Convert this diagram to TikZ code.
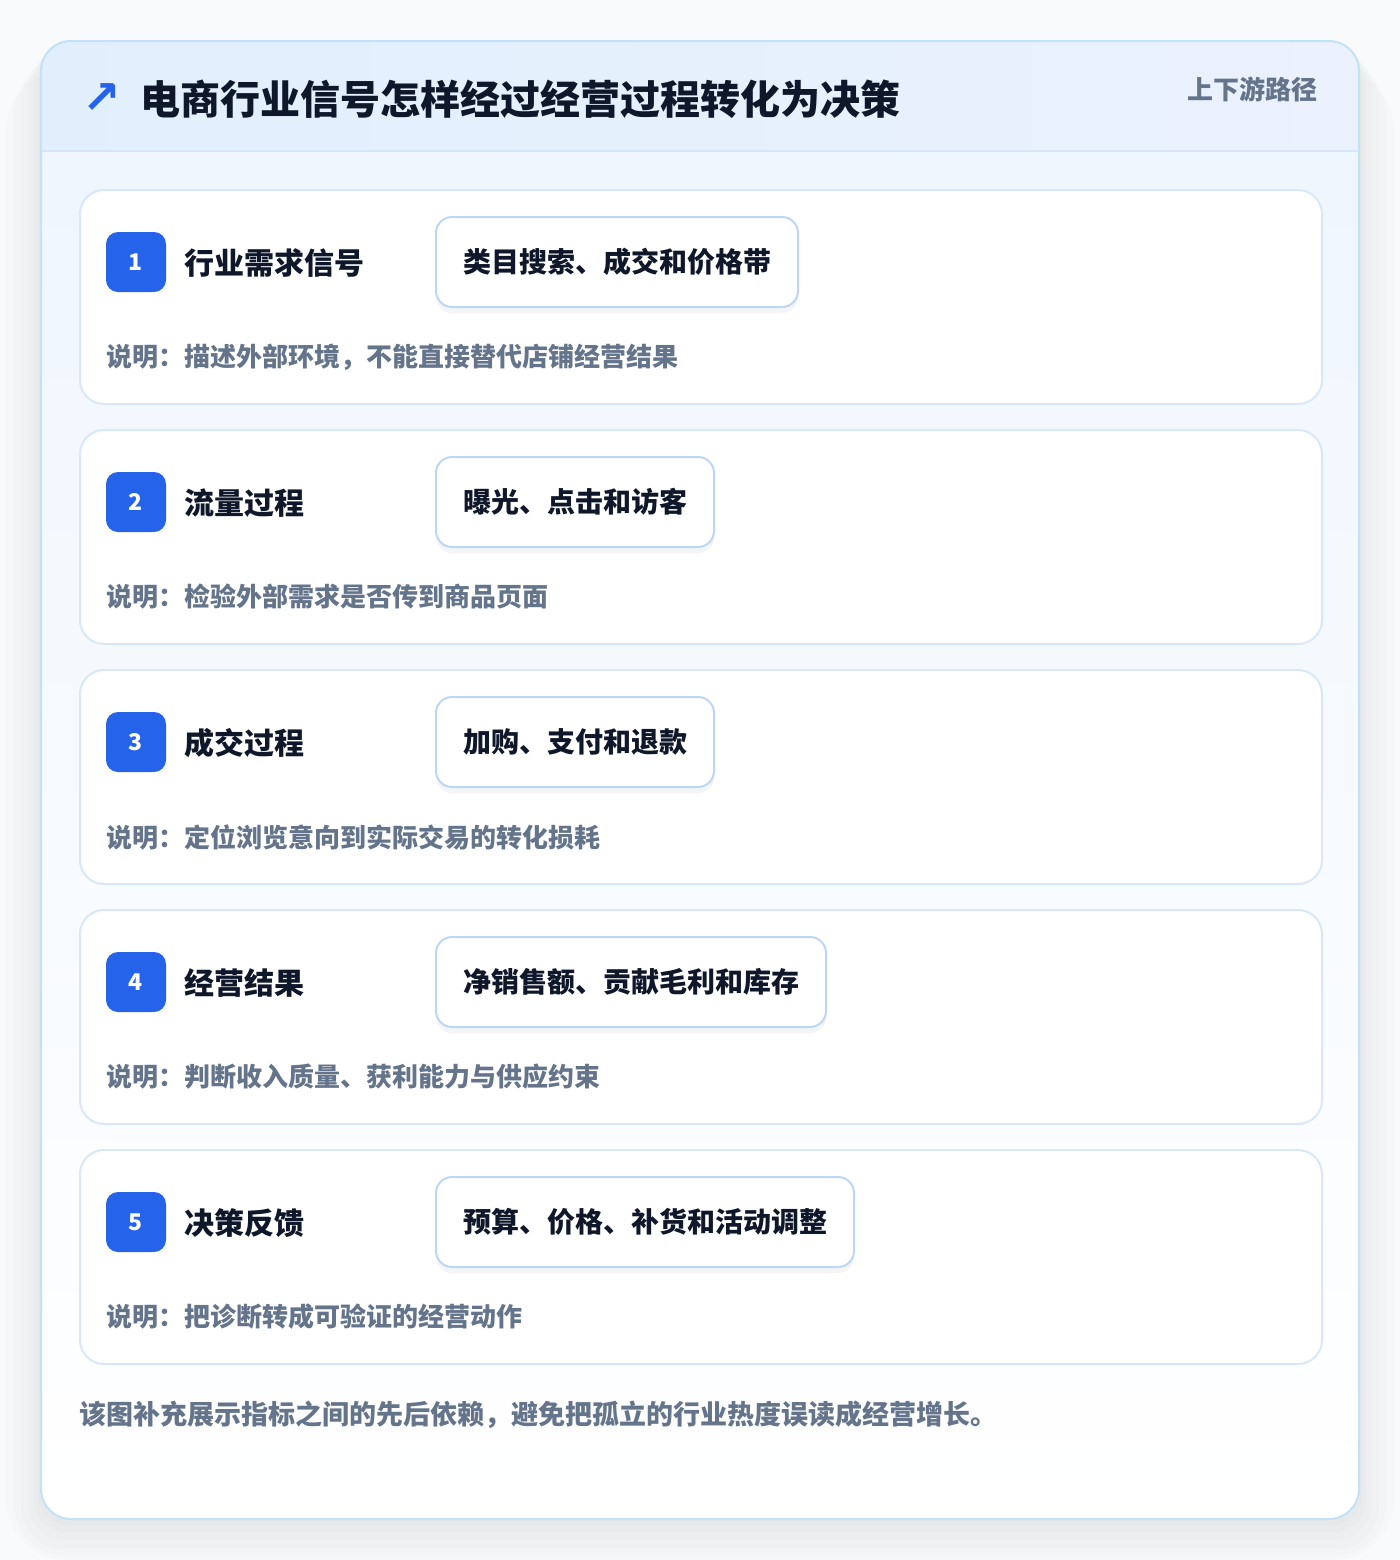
\documentclass[tikz,border=0pt]{standalone}
\usepackage{fontspec}
\setmainfont{Noto Sans CJK SC}
\newfontfamily\symfont{DejaVu Sans}
\usetikzlibrary{positioning,shadows}

\definecolor{pagebg}{HTML}{F9FAFB}
\definecolor{outline}{HTML}{C3E2F7}
\definecolor{headl}{HTML}{E1EFFD}
\definecolor{headr}{HTML}{EBF1FD}
\definecolor{headline}{HTML}{D6E6F8}
\definecolor{bodytop}{HTML}{EFF6FE}
\definecolor{cardline}{HTML}{D8E8F8}
\definecolor{chipline}{HTML}{BCD7F5}
\definecolor{badgeblue}{HTML}{2563EB}
\definecolor{ink}{HTML}{0F172A}
\definecolor{muted}{HTML}{64748B}

\tikzset{
	card/.style={draw=cardline, line width=1pt, fill=white, rounded corners=12pt, minimum width=621pt, minimum height=107pt, anchor=north west},
	badge/.style={fill=badgeblue, text=white, rounded corners=6pt, minimum size=30pt, inner sep=0pt, font=\bfseries\fontsize{11.5}{11.5}\selectfont},
	steptitle/.style={anchor=west, inner sep=0pt, text=ink, font=\bfseries\fontsize{15}{15}\selectfont},
	chip/.style={anchor=west, draw=chipline, line width=1pt, fill=white, rounded corners=8pt, minimum height=45pt, inner xsep=13.5pt, text=ink, font=\bfseries\fontsize{14}{14}\selectfont, drop shadow={shadow xshift=0pt, shadow yshift=-3pt, opacity=0.04, fill=black}},
	note/.style={anchor=west, inner sep=0pt, text=muted, font=\bfseries\fontsize{13}{13}\selectfont},
	shade/.style={fill=black, opacity=0.012},
}

\begin{document}
\begin{tikzpicture}[x=0.5pt,y=-0.5pt]
		\useasboundingbox (0,0) rectangle (1400,1560);
		\fill[pagebg] (0,0) rectangle (1400,1560);
		% soft shadow under the panel
		\fill[shade, rounded corners=30pt] (6,70) rectangle (1394,1560);
		\fill[shade, rounded corners=26pt] (14,62) rectangle (1386,1556);
		\fill[shade, rounded corners=22pt] (21,56) rectangle (1379,1549);
		\fill[shade, rounded corners=19pt] (28,51) rectangle (1372,1541);
		\fill[shade, rounded corners=17pt] (34,46) rectangle (1366,1533);
		\fill[shade, rounded corners=16pt] (38,43) rectangle (1362,1526);
		% panel
		\begin{scope}
			\clip[rounded corners=15pt] (41,41) rectangle (1359,1519);
			\fill[top color=bodytop, bottom color=white] (41,151) rectangle (1359,1519);
			\fill[left color=headl, right color=headr] (41,41) rectangle (1359,151);
			\draw[headline, line width=1pt] (41,151) -- (1359,151);
		\end{scope}
		\draw[outline, line width=1pt, rounded corners=15pt] (41,41) rectangle (1359,1519);

		\node at (102,99) [text=badgeblue, inner sep=0pt, font=\symfont\bfseries\fontsize{23}{23}\selectfont] (icon) {↗};
		\node at (140,99) [anchor=west, inner sep=0pt, text=ink, font=\bfseries\fontsize{20}{20}\selectfont] (title) {电商行业信号怎样经过经营过程转化为决策};
		\node at (1318,89) [anchor=east, inner sep=0pt, text=muted, font=\bfseries\fontsize{13}{13}\selectfont] (tag) {上下游路径};

		% step 1
		\node at (79,189) [card] (c1) {};
		\node at (136,262) [badge] (b1) {1};
		\node at (184,263) [steptitle] (t1) {行业需求信号};
		\node at (435,262) [chip] (k1) {类目搜索、成交和价格带};
		\node at (106,357) [note] (n1) {说明：描述外部环境，不能直接替代店铺经营结果};

		% step 2
		\node at (79,429) [card] (c2) {};
		\node at (136,502) [badge] (b2) {2};
		\node at (184,503) [steptitle] (t2) {流量过程};
		\node at (435,502) [chip] (k2) {曝光、点击和访客};
		\node at (106,597) [note] (n2) {说明：检验外部需求是否传到商品页面};

		% step 3
		\node at (79,669) [card] (c3) {};
		\node at (136,742) [badge] (b3) {3};
		\node at (184,743) [steptitle] (t3) {成交过程};
		\node at (435,742) [chip] (k3) {加购、支付和退款};
		\node at (106,837) [note] (n3) {说明：定位浏览意向到实际交易的转化损耗};

		% step 4
		\node at (79,909) [card] (c4) {};
		\node at (136,982) [badge] (b4) {4};
		\node at (184,983) [steptitle] (t4) {经营结果};
		\node at (435,982) [chip] (k4) {净销售额、贡献毛利和库存};
		\node at (106,1077) [note] (n4) {说明：判断收入质量、获利能力与供应约束};

		% step 5
		\node at (79,1149) [card] (c5) {};
		\node at (136,1222) [badge] (b5) {5};
		\node at (184,1223) [steptitle] (t5) {决策反馈};
		\node at (435,1222) [chip] (k5) {预算、价格、补货和活动调整};
		\node at (106,1317) [note] (n5) {说明：把诊断转成可验证的经营动作};

		\node at (79,1415) [note, font=\bfseries\fontsize{13.5}{13.5}\selectfont] (foot) {该图补充展示指标之间的先后依赖，避免把孤立的行业热度误读成经营增长。};
\end{tikzpicture}
\end{document}
